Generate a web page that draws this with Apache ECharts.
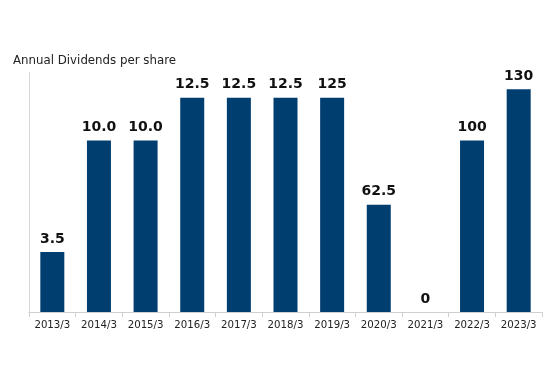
<!DOCTYPE html>
<html><head><meta charset="utf-8">
<script src="https://cdn.jsdelivr.net/npm/echarts@6/dist/echarts.min.js"></script>
<style>html,body{margin:0;padding:0;background:#fff}#c{width:560px;height:374px}</style>
</head><body><div id="c"></div>
<script>
const categories = ['2013/3','2014/3','2015/3','2016/3','2017/3','2018/3','2019/3','2020/3','2021/3','2022/3','2023/3'];
// bar heights (split-adjusted, as drawn)
const adjustedValues = [35, 100, 100, 125, 125, 125, 125, 62.5, 0, 100, 130];
// labels as printed on the chart
const labelTexts = ['3.5','10.0','10.0','12.5','12.5','12.5','125','62.5','0','100','130'];
const title = 'Annual Dividends per share';

const chart = echarts.init(document.getElementById('c'));
chart.setOption({
  animation: false,
  title: { text: title, left: 8, top: 50, textStyle: { fontFamily: 'DejaVu Sans', fontSize: 11.8, fontWeight: 'normal', color: '#222' } },
  grid: { left: 29, right: 18, top: 72, bottom: 62 },
  xAxis: {
    type: 'category', data: categories,
    axisLine: { lineStyle: { color: '#d0d0d0' } },
    axisTick: { show: true, length: 5, lineStyle: { color: '#d0d0d0' } },
    axisLabel: { fontFamily: 'DejaVu Sans', fontSize: 10.2, color: '#222', margin: 8 }
  },
  yAxis: {
    type: 'value', min: 0, max: 140,
    axisLine: { show: true, lineStyle: { color: '#d8d8d8' } },
    axisTick: { show: false }, axisLabel: { show: false }, splitLine: { show: false }
  },
  series: [{
    type: 'bar', data: adjustedValues, barWidth: 24,
    itemStyle: { color: '#013e70' },
    label: {
      show: true, position: 'top', distance: 6,
      fontFamily: 'DejaVu Sans', fontWeight: 'bold', fontSize: 14, color: '#111',
      formatter: p => labelTexts[p.dataIndex]
    }
  }]
});
</script></body></html>
